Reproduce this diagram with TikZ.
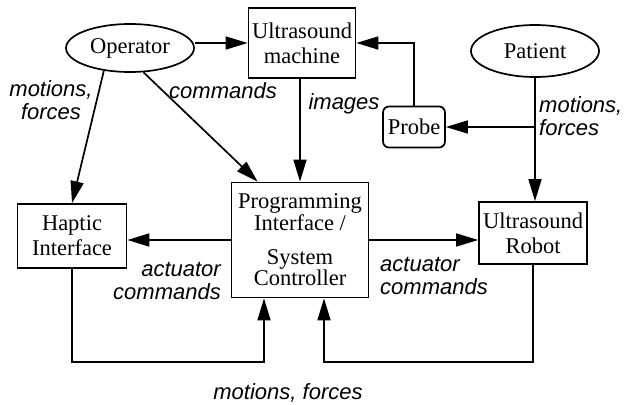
\documentclass[tikz,border=0pt]{standalone}
\usepackage{fontspec}
\setmainfont{Liberation Serif}
\setsansfont{Liberation Sans}
\usetikzlibrary{shapes.geometric,arrows.meta}
\tikzset{
  lw/.style={line width=1.7pt},
  box/.style={draw, lw, inner sep=0pt, align=center, font=\fontsize{22.5}{25}\selectfont},
  oval/.style={ellipse, draw, lw, inner sep=0pt, font=\fontsize{22.5}{25}\selectfont},
  arr/.style={lw, -{Triangle[length=22pt,width=13pt]}},
  lab/.style={inner sep=0pt, font=\sffamily\itshape\fontsize{22}{23}\selectfont}
}
\begin{document}
\begin{tikzpicture}[x=1pt,y=-1pt]
\useasboundingbox (0,0) rectangle (631,404);
% nodes
\node[oval, minimum width=128pt, minimum height=48pt] (op) at (130,48) {Operator};
\node[oval, minimum width=128pt, minimum height=52pt] (pat) at (535,51) {Patient};
\node[box, minimum width=107pt, minimum height=70pt] (mach) at (302,43) {Ultrasound\\machine};
\node[box, rounded corners=6pt, minimum width=62pt, minimum height=41pt] (probe) at (414,127) {Probe};
\node[box, minimum width=109pt, minimum height=64pt] (hap) at (72,236) {Haptic\\Interface};
\node[box, minimum width=137pt, minimum height=115pt, font=\fontsize{22.5}{20}\selectfont] (prog) at (300,240) {Programming\\Interface /\\[14pt]System\\Controller};
\node[box, minimum width=108pt, minimum height=62pt] (rob) at (533,233) {Ultrasound\\Robot};
% helper coordinates
\coordinate (bot) at (0,362);
\coordinate (pl) at ([xshift=-36pt]prog.south);
\coordinate (pr) at ([xshift=24pt]prog.south);
\coordinate (opc) at ([xshift=27pt]prog.north west);
\coordinate (br) at (pat.south |- probe.east);
% connectors
\draw[arr] (op.east |- mach.west) -- (mach.west);
\draw[arr] (prog.north |- mach.south) -- (prog.north);
\draw[arr] (probe.north) |- (mach.east);
\draw[arr] (pat.south) -- (pat.south |- rob.north);
\draw[arr] (br) -- (probe.east);
\draw[arr] (op.221) -- (hap.north);
\draw[arr] (op.299) -- (opc);
\draw[arr] (prog.west) -- (prog.west -| hap.east);
\draw[arr] (prog.east) -- (prog.east -| rob.west);
\draw[arr] (hap.south) -- (hap.south |- bot) -| (pl);
\draw[arr] (rob.south) -- (rob.south |- bot) -| (pr);
% labels
\node[lab, align=center] (l1) at (51,100) {motions,\\forces};
\node[lab] (l2) at (223,91) {commands};
\node[lab] (l3) at (344,104) {images};
\node[lab, align=left, anchor=west] (l4) at (539,116) {motions,\\forces};
\node[lab, align=right, anchor=east] (l5) at (221,281) {actuator\\commands};
\node[lab, align=left, anchor=west] (l6) at (380,276) {actuator\\commands};
\node[lab] (l7) at (288,393) {motions, forces};
\end{tikzpicture}
\end{document}
